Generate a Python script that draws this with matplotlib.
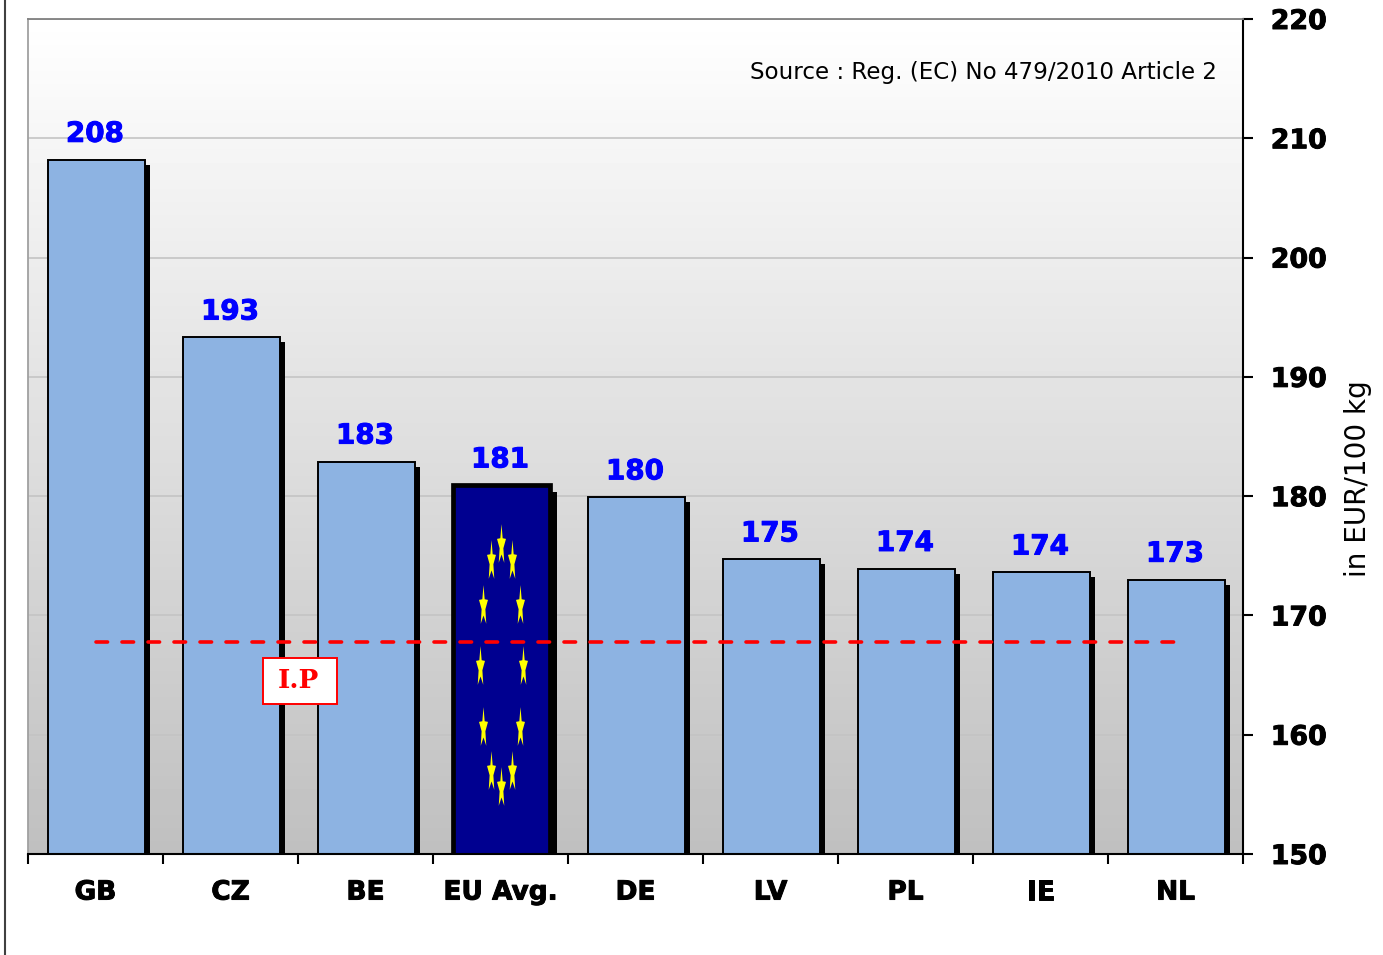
import numpy as np
import matplotlib
matplotlib.use('Agg')
import matplotlib.pyplot as plt
import matplotlib.patheffects as pe
from matplotlib.lines import Line2D
from matplotlib.patches import Rectangle
from matplotlib.path import Path

# Values
countries = ['GB', 'CZ', 'BE', 'EU Avg.', 'DE', 'LV', 'PL', 'IE', 'NL']
prices = [208.2, 193.3, 182.9, 180.9, 179.9, 174.7, 173.9, 173.6, 173.0]
ip_price = 167.8
y_ticks = [150, 160, 170, 180, 190, 200, 210, 220]

W, H = 1383, 955
fig = plt.figure(figsize=(W / 100, H / 100), dpi=100, facecolor='white')
ax = fig.add_axes([28 / W, 1 - 854 / H, 1215 / W, 835 / H])

x = np.arange(len(countries)) + 0.006

# Plot background, white at the top to grey at the bottom
grad = np.linspace(1, 0.75, 256).reshape(-1, 1)
ax.imshow(grad, cmap='gray', vmin=0, vmax=1, extent=[-0.5, 8.5, 150, 220], aspect='auto', zorder=0)

ax.set_xlim(-0.5, 8.5)
ax.set_ylim(150, 220)
ax.grid(axis='y', color='#c4c4c4', lw=1.2)
ax.set_axisbelow(True)

# Bars with a hard black shadow
shadow = [pe.SimplePatchShadow(offset=(3.6, -3.6), shadow_rgbFace='black', alpha=1), pe.Normal()]
bars = ax.bar(x, prices, width=0.715, color='#8db3e2', edgecolor='black', lw=1.4, zorder=2)
for b in bars:
    b.set_path_effects(shadow)

eu = countries.index('EU Avg.')
bars[eu].set_facecolor('#000090')
bars[eu].set_linewidth(3.4)
bars[eu].set_path_effects([pe.SimplePatchShadow(offset=(5, -4.5), shadow_rgbFace='black', alpha=1), pe.Normal()])

# EU flag ring of stars on the average bar
angles = np.deg2rad(np.arange(0, 360, 30))
star_x = x[eu] + 0.16 * np.sin(angles)
star_y = 165.7 + 10.2 * np.cos(angles)
a = np.deg2rad(90 + 36 * np.arange(10))
r = np.where(np.arange(10) % 2 == 0, 1.0, 0.42)
verts = np.column_stack([0.22 * r * np.cos(a), r * np.sin(a)])
star = Path(np.vstack([verts, verts[:1]]), closed=True)
ax.scatter(star_x, star_y, marker=star, s=950, color='#ffff00', linewidths=0, zorder=3)


def heavy(color):
    return [pe.withStroke(linewidth=0.7, foreground=color)]


# Value labels
for xi, p in zip(x, prices):
    ax.annotate('%.0f' % p, (xi - 0.01, p), xytext=(0, 8.6), textcoords='offset points',
                ha='center', va='bottom', color='#0000ff', fontsize=20, fontweight='bold', zorder=6,
                path_effects=heavy('#0000ff'))

# Intervention price line
ax.plot(x, [ip_price] * len(x), color='#ff0000', lw=2.6, dashes=(3.2, 4.0),
        dash_capstyle='round', zorder=4)
ax.add_patch(Rectangle((263 / W, 1 - 704 / H), 74 / W, 46 / H, transform=fig.transFigure,
                       fc='white', ec='#ff0000', lw=1.4, zorder=5))
ax.text(298 / W, 1 - 680 / H, 'I.P', color='#ff0000', fontsize=19, fontweight='bold', family='DejaVu Serif',
        ha='center', va='center', zorder=6, transform=fig.transFigure)

ax.text(0.9785, 0.936, 'Source : Reg. (EC) No 479/2010 Article 2', transform=ax.transAxes,
        ha='right', va='center', fontsize=16.6, zorder=6)

# Axes
ax.yaxis.tick_right()
ax.set_yticks(y_ticks)
ax.tick_params(axis='y', length=7, width=1.5, pad=13, labelsize=19.3)
for lab in ax.get_yticklabels():
    lab.set_fontweight('bold')
    lab.set_path_effects(heavy('black'))
ax.set_xticks(np.arange(-0.5, 9, 1))
ax.set_xticklabels([])
ax.set_xticks(np.arange(len(countries)), labels=countries, minor=True)
ax.tick_params(axis='x', which='major', length=7, width=1.5)
ax.tick_params(axis='x', which='minor', length=0, pad=18.4, labelsize=19)
for lab in ax.get_xticklabels(minor=True):
    lab.set_fontweight('bold')
    lab.set_path_effects(heavy('black'))

ax.spines['top'].set_color('#808080')
ax.spines['left'].set_color('#a0a0a0')
ax.spines['top'].set_linewidth(1.3)
ax.spines['left'].set_linewidth(1.3)
ax.spines['right'].set_linewidth(1.5)
ax.spines['bottom'].set_linewidth(1.5)

fig.text(1358 / W, 1 - 479 / H, 'in EUR/100 kg', rotation=90, ha='center', va='center', fontsize=20.1)

# Stray page border on the far left
fig.add_artist(Line2D([5 / W, 5 / W], [0, 1], color='#404040', lw=1.5))

fig.savefig('out.png', dpi=100)
